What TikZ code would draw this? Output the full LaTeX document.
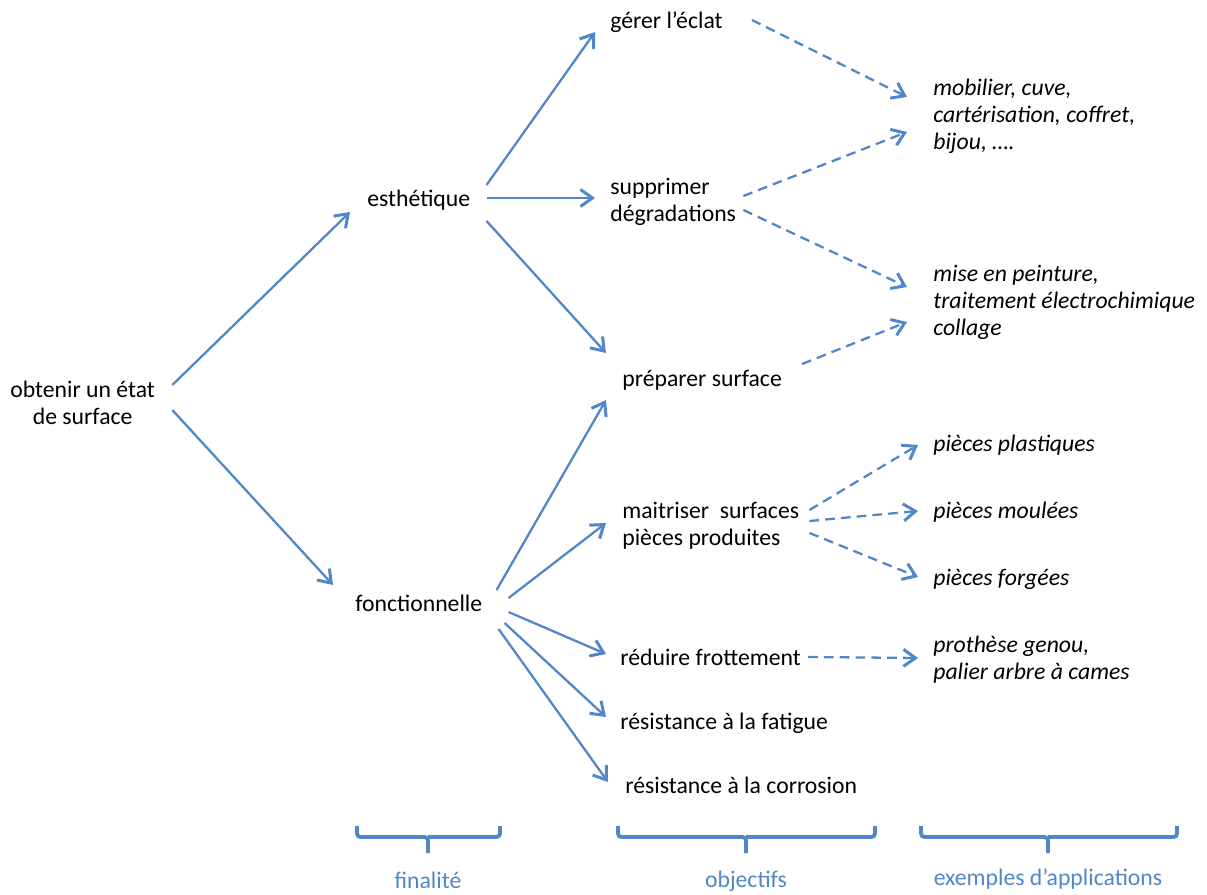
\documentclass[tikz,border=0pt]{standalone}
\usepackage{fontspec}
\setmainfont{Carlito}
\usepackage{tikz}
\usetikzlibrary{arrows.meta}
\definecolor{bleu}{RGB}{80,135,200}

\begin{document}
\begin{tikzpicture}[x=0.02cm,y=-0.02cm,
    every node/.style={inner sep=0pt,anchor=west,align=left,font=\fontsize{13.5}{15.4}\selectfont},
    ex/.style={font=\fontsize{13.5}{15.4}\selectfont\itshape},
    fleche/.style={bleu,line width=1.3pt,-{Straight Barb[length=2.4mm,width=3.4mm,line width=1.7pt]}},
    tiret/.style={fleche,dash pattern=on 5.5pt off 3.5pt},
    accolade/.style={bleu,line width=2.2pt,rounded corners=2pt},
    titre/.style={anchor=center,text=bleu}]
  \useasboundingbox (0,0) rectangle (1207,895);

  % finalite
  \node[align=center] (obt) at (10,403) {obtenir un état\\de surface};
  \node (esth) at (367,200) {esthétique};
  \node (fonc) at (355,603) {fonctionnelle};

  % objectifs
  \node (gerer) at (610,22) {gérer l’éclat};
  \node (supp) at (610,202) {supprimer\\dégradations};
  \node (prep) at (622,380) {préparer surface};
  \node (mait) at (622,526) {maitriser\ \ surfaces\\pièces produites};
  \node (red) at (620,657) {réduire frottement};
  \node (fat) at (620,723) {résistance à la fatigue};
  \node (corr) at (625,785) {résistance à la corrosion};

  % exemples
  \node[ex] (mob) at (933,116) {mobilier, cuve,\\cartérisation, coffret,\\bijou, ….};
  \node[ex] (mise) at (933,302) {mise en peinture,\\traitement électrochimique\\collage};
  \node[ex] (plast) at (933,445) {pièces plastiques};
  \node[ex] (moul) at (933,512) {pièces moulées};
  \node[ex] (forg) at (933,579) {pièces forgées};
  \node[ex] (proth) at (933,660) {prothèse genou,\\palier arbre à cames};

  \foreach \a/\sx/\sy/\b/\tx/\ty in {obt/17/-18/esth/-17/12, obt/17/7/fonc/-22/-18,
      esth/16/-15/gerer/-15/10, esth/16/-2/supp/-15/-4, esth/16/21/prep/-16/-27,
      fonc/14/-13/prep/-16/20, fonc/26/-5/mait/-16/-3, fonc/26/9/red/-14/-3,
      fonc/22/20/fat/-14/-6, fonc/16/26/corr/-17/-3}
    \draw[fleche] ([shift={(\sx,\sy)}]\a.east) -- ([shift={(\tx,\ty)}]\b.west);

  \foreach \a/\sx/\sy/\b/\tx/\ty in {gerer/29/-2/mob/-26/-19, supp/7/-6/mob/-26/16,
      supp/7/8/mise/-26/-15, prep/20/-16/mise/-26/20, mait/10/-16/plast/-15/0,
      mait/10/-5/moul/-15/-1, mait/10/7/forg/-15/-2, red/7/0/proth/-15/-2}
    \draw[tiret] ([shift={(\sx,\sy)}]\a.east) -- ([shift={(\tx,\ty)}]\b.west);

  % accolades
  \foreach \g/\m/\d in {357/428/500, 618/746/875, 921/1048/1177}
    \draw[accolade] (\g,826) |- (\m,837) -- (\m,853) (\m,837) -| (\d,826);

  \node[titre] (fin) at (428,880) {finalité};
  \node[titre] (obj) at (746,881) {objectifs};
  \node[titre] (expl) at (1048,879) {exemples d’applications};
\end{tikzpicture}
\end{document}
